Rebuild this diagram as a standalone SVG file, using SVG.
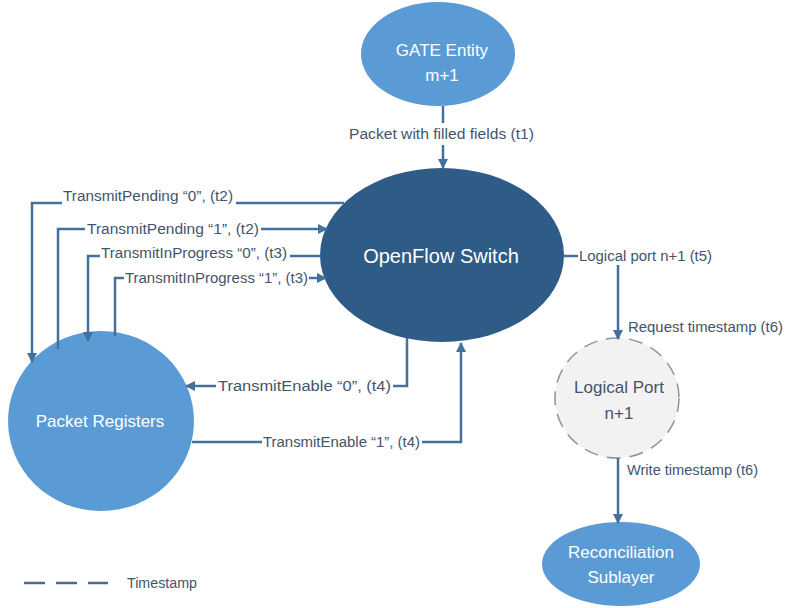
<svg xmlns="http://www.w3.org/2000/svg" width="785" height="608" viewBox="0 0 785 608">
  <style>
    .node { fill: #5b9bd5; }
    .hub { fill: #2e5c87; }
    .ntext { font-family: "Liberation Sans", Arial, sans-serif; fill: #ffffff; text-anchor: middle; }
    .lbl { font-family: "Liberation Sans", Arial, sans-serif; font-size: 14px; fill: #44546a; }
    .wire { fill: none; stroke: #41719c; stroke-width: 2.5; }
    .arrow { marker-end: url(#head); }
  </style>
  <defs>
    <marker id="head" viewBox="0 0 10 10" refX="9" refY="5" markerWidth="4" markerHeight="4" orient="auto" markerUnits="strokeWidth">
      <path d="M0,0 L10,5 L0,10 z" fill="#41719c"/>
    </marker>
  </defs>
  <rect width="785" height="608" fill="#ffffff"/>

  <!-- nodes -->
  <g id="gate-entity">
    <ellipse class="node" cx="438" cy="54" rx="77" ry="52"/>
    <text class="ntext" x="442" y="56" font-size="17">GATE Entity</text>
    <text class="ntext" x="442" y="81" font-size="17">m+1</text>
  </g>
  <g id="openflow-switch">
    <ellipse class="hub" cx="442" cy="255" rx="122" ry="87"/>
    <text class="ntext" x="441" y="263" font-size="20">OpenFlow Switch</text>
  </g>
  <g id="packet-registers">
    <ellipse class="node" cx="101" cy="421" rx="93" ry="90"/>
    <text class="ntext" x="100" y="427" font-size="17">Packet Registers</text>
  </g>
  <g id="logical-port">
    <ellipse cx="617" cy="398" rx="62" ry="60" fill="#f2f2f2" stroke="#8496a8" stroke-width="1.5" stroke-dasharray="14 9"/>
    <text x="619" y="393" font-size="17" font-family="Liberation Sans, Arial, sans-serif" fill="#44546a" text-anchor="middle">Logical Port</text>
    <text x="619" y="419" font-size="17" font-family="Liberation Sans, Arial, sans-serif" fill="#44546a" text-anchor="middle">n+1</text>
  </g>
  <g id="reconciliation-sublayer">
    <ellipse class="node" cx="621" cy="564" rx="79" ry="42"/>
    <text class="ntext" x="621" y="558" font-size="17">Reconciliation</text>
    <text class="ntext" x="621" y="583" font-size="17">Sublayer</text>
  </g>

  <!-- connectors -->
  <g id="connectors">
    <!-- t1 -->
    <line class="wire" x1="443" y1="106" x2="443" y2="123"/>
    <line class="wire arrow" x1="443" y1="145" x2="443" y2="168"/>
    <text class="lbl" x="349" y="139" textLength="185" lengthAdjust="spacingAndGlyphs">Packet with filled fields (t1)</text>

    <!-- TransmitPending 0 -->
    <line class="wire" x1="236" y1="203" x2="344" y2="203"/>
    <polyline class="wire arrow" points="62,203 32,203 32,362"/>
    <text class="lbl" x="63" y="201" textLength="170" lengthAdjust="spacingAndGlyphs">TransmitPending “0”, (t2)</text>

    <!-- TransmitPending 1 -->
    <polyline class="wire" points="58,349 58,229 85,229"/>
    <line class="wire arrow" x1="261" y1="229" x2="327" y2="229"/>
    <text class="lbl" x="87" y="234" textLength="172" lengthAdjust="spacingAndGlyphs">TransmitPending “1”, (t2)</text>

    <!-- TransmitInProgress 0 -->
    <line class="wire" x1="321" y1="256" x2="290" y2="256"/>
    <polyline class="wire arrow" points="100,256 88,256 88,341"/>
    <text class="lbl" x="101" y="258" textLength="186" lengthAdjust="spacingAndGlyphs">TransmitInProgress “0”, (t3)</text>

    <!-- TransmitInProgress 1 -->
    <polyline class="wire" points="115,336 115,278 124,278"/>
    <line class="wire arrow" x1="309" y1="278" x2="326" y2="278"/>
    <text class="lbl" x="125" y="283" textLength="183" lengthAdjust="spacingAndGlyphs">TransmitInProgress “1”, (t3)</text>

    <!-- TransmitEnable 0 -->
    <polyline class="wire" points="407,338 407,386 393,386"/>
    <line class="wire arrow" x1="216" y1="386" x2="186" y2="386"/>
    <text class="lbl" x="218" y="391" textLength="173" lengthAdjust="spacingAndGlyphs">TransmitEnable “0”, (t4)</text>

    <!-- TransmitEnable 1 -->
    <line class="wire" x1="192" y1="442" x2="262" y2="442"/>
    <polyline class="wire arrow" points="422,442 461,442 461,343"/>
    <text class="lbl" x="263" y="447" textLength="157" lengthAdjust="spacingAndGlyphs">TransmitEnable “1”, (t4)</text>

    <!-- Logical port t5 / t6 -->
    <line class="wire" x1="564" y1="256" x2="578" y2="256"/>
    <text class="lbl" x="579" y="261" textLength="133" lengthAdjust="spacingAndGlyphs">Logical port n+1 (t5)</text>
    <line class="wire arrow" x1="618" y1="265" x2="618" y2="339"/>
    <text class="lbl" x="628" y="332" textLength="155" lengthAdjust="spacingAndGlyphs">Request timestamp (t6)</text>
    <line class="wire arrow" x1="618" y1="458" x2="618" y2="523"/>
    <text class="lbl" x="627" y="475" textLength="131" lengthAdjust="spacingAndGlyphs">Write timestamp (t6)</text>
  </g>

  <!-- legend -->
  <g id="legend">
    <line x1="24" y1="583" x2="108" y2="583" stroke="#4f6b88" stroke-width="2.5" stroke-dasharray="21 11"/>
    <text class="lbl" x="127" y="588" textLength="70" lengthAdjust="spacingAndGlyphs">Timestamp</text>
  </g>
</svg>
